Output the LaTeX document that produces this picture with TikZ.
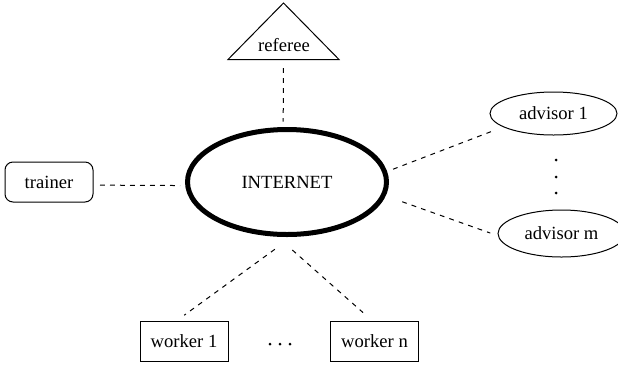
\documentclass[tikz,border=0pt]{standalone}
\usepackage{fontspec}
\setmainfont{Liberation Serif}
\usetikzlibrary{shapes.geometric}
\begin{document}
\begin{tikzpicture}[x=1pt,y=-1pt,
  lbl/.style={font=\fontsize{18.6}{22}\selectfont, inner sep=0pt},
  net/.style={lbl, ellipse, draw, line width=5pt, minimum width=199pt, minimum height=105pt},
  adv/.style={lbl, ellipse, draw, line width=1pt, minimum width=127pt, minimum height=43pt},
  box/.style={lbl, rectangle, draw, line width=1pt, minimum width=88pt, minimum height=40pt},
  rbox/.style={box, rounded corners=8pt},
  conn/.style={line width=1pt, dash pattern=on 4.8pt off 5.2pt},
  dot/.style={circle, fill, inner sep=0pt, minimum size=3pt}
]
\useasboundingbox (0,0) rectangle (618,365);

% nodes
\node[net] (internet) at (287,182) {INTERNET};
\node[rbox] (trainer) at (49,182) {trainer};
\node[lbl] (referee) at (284,45) {referee};
\draw[line width=1pt, line join=miter] (283.5,3) -- (228,59.5) -- (339,59.5) -- cycle;
\coordinate (refbase) at (283.5,59.5);
\node[adv] (adv1) at (553.5,113.5) {advisor 1};
\node[adv, minimum height=47pt] (advm) at (561.5,233.5) {advisor m};
\node[box] (w1) at (184,341) {worker 1};
\node[box] (wn) at (374.5,341) {worker n};

% dots
\node[dot] (v1) at (556,160) {};
\node[dot] (v2) at (556,177) {};
\node[dot] (v3) at (556,193) {};
\node[dot] (h1) at (270,344) {};
\node[dot] (h2) at (280,344) {};
\node[dot] (h3) at (290,344) {};

% connectors
\draw[conn, shorten <=8.5pt, shorten >=5.5pt] (refbase) -- (internet.94);
\draw[conn, shorten <=6.5pt, shorten >=5pt] (trainer.-4) -- (internet.182);
\draw[conn, shorten <=6.4pt, shorten >=13pt] (internet.6) -- (adv1.195);
\draw[conn, shorten <=17.5pt, shorten >=8pt] (internet.-8) -- (advm.182);
\draw[conn, shorten <=21pt, shorten >=9pt] (internet.-85) -- (w1.109);
\draw[conn, shorten <=20pt, shorten >=12pt] (internet.-100) -- (wn.97);
\end{tikzpicture}
\end{document}
